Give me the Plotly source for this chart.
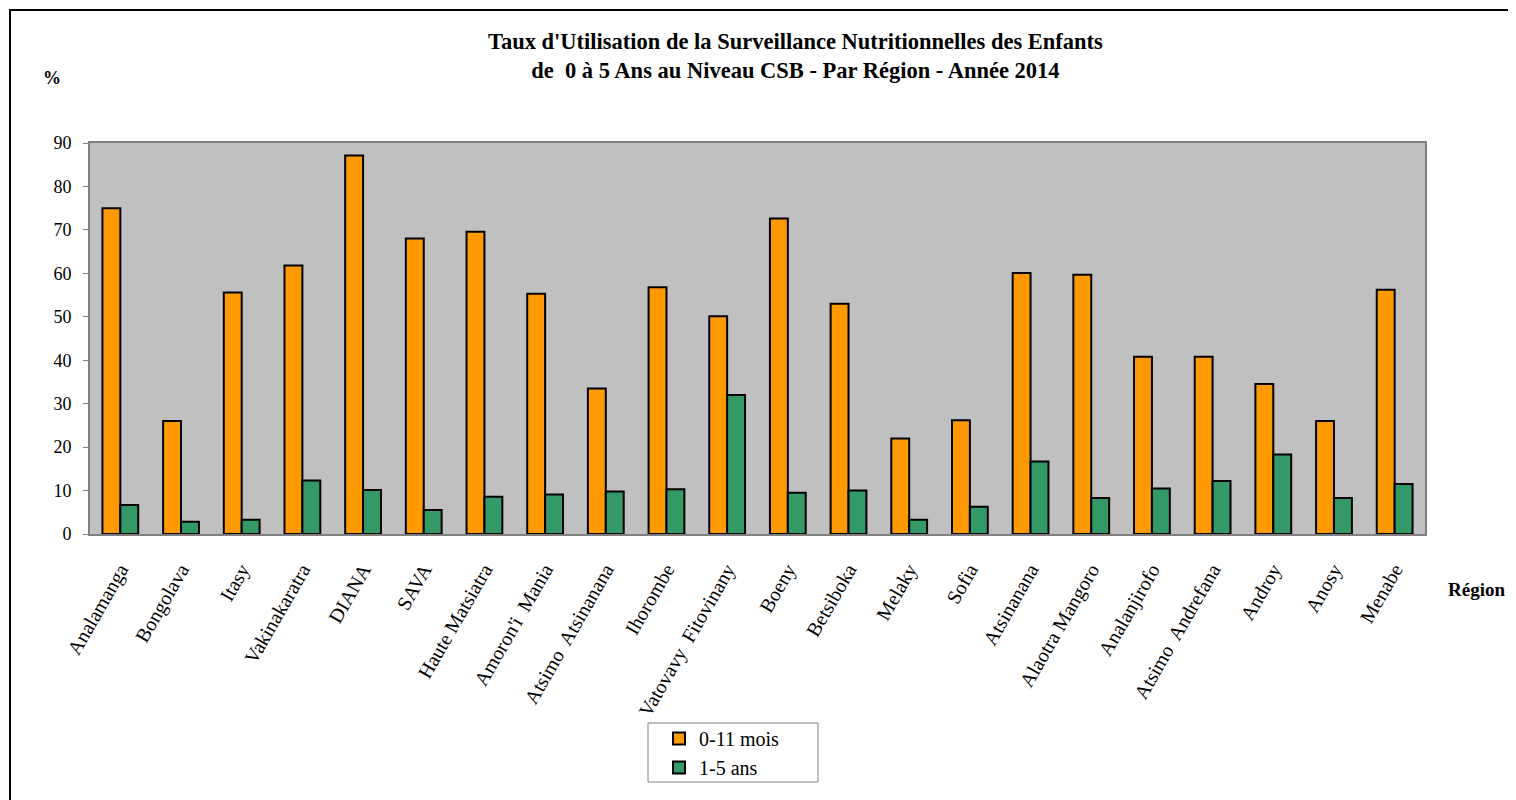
import plotly.graph_objects as go

regions = ["Analamanga", "Bongolava", "Itasy", "Vakinakaratra", "DIANA", "SAVA",
           "Haute Matsiatra", "Amoron'i  Mania", "Atsimo  Atsinanana", "Ihorombe",
           "Vatovavy  Fitovinany", "Boeny", "Betsiboka", "Melaky", "Sofia",
           "Atsinanana", "Alaotra Mangoro", "Analanjirofo", "Atsimo  Andrefana",
           "Androy", "Anosy", "Menabe"]
mois_0_11 = [75.0, 26.0, 55.6, 61.8, 87.1, 68.0, 69.6, 55.3, 33.5, 56.8,
             50.1, 72.6, 53.0, 22.0, 26.2, 60.1, 59.7, 40.8, 40.8, 34.5, 26.0, 56.2]
ans_1_5 = [6.7, 2.8, 3.3, 12.3, 10.1, 5.5, 8.6, 9.1, 9.8, 10.3,
           32.0, 9.5, 10.0, 3.3, 6.3, 16.7, 8.3, 10.5, 12.2, 18.3, 8.3, 11.5]
y_ticks = [0, 10, 20, 30, 40, 50, 60, 70, 80, 90]

FONT = "Liberation Serif, Times New Roman, serif"

# page body has an 8px margin; plot area targets x 90..1425, y 143..534 on screen
L, T, W, H = 82, 135, 1335, 391


def px(x):
    return (x - 90) / W


def py(y):
    return (534 - y) / H


fig = go.Figure()
fig.add_trace(go.Bar(x=regions, y=mois_0_11, name="0-11 mois",
                     marker=dict(color="#FF9900", line=dict(color="black", width=2))))
fig.add_trace(go.Bar(x=regions, y=ans_1_5, name="1-5 ans",
                     marker=dict(color="#339966", line=dict(color="black", width=2))))

fig.update_layout(
    width=1516, height=800,
    margin=dict(l=L, r=1516 - L - W, t=T, b=800 - T - H),
    paper_bgcolor="white", plot_bgcolor="#C0C0C0",
    barmode="group", bargap=0.41, bargroupgap=0,
    font=dict(family=FONT, color="black"),
    showlegend=True,
    legend=dict(x=px(659), y=py(719), xanchor="left", yanchor="top",
                borderwidth=0, bgcolor="rgba(0,0,0,0)",
                font=dict(size=20, family=FONT), traceorder="normal",
                itemwidth=30),
    xaxis=dict(tickangle=-60, tickfont=dict(size=20, family=FONT),
               ticklabelstandoff=14,
               showline=True, linecolor="#808080", linewidth=2, mirror=True,
               ticks="", showgrid=False),
    yaxis=dict(range=[0, 90], tickvals=y_ticks, tickfont=dict(size=18, family=FONT),
               ticklabelstandoff=8,
               showline=True, linecolor="#808080", linewidth=2, mirror=True,
               ticks="outside", ticklen=5, tickcolor="#808080",
               showgrid=False, zeroline=False),
    shapes=[
        dict(type="rect", xref="paper", yref="paper",
             x0=px(10), x1=1.2, y0=-1.0, y1=py(10),
             line=dict(color="black", width=2), fillcolor="rgba(0,0,0,0)",
             layer="below"),
        dict(type="rect", xref="paper", yref="paper",
             x0=px(648), x1=px(818), y0=py(782), y1=py(723),
             line=dict(color="#808080", width=1), fillcolor="white",
             layer="below"),
    ],
    annotations=[
        dict(text="<b>Taux d'Utilisation de la Surveillance Nutritionnelles des Enfants<br>"
                  "de  0 à 5 Ans au Niveau CSB - Par Région - Année 2014</b>",
             xref="paper", yref="paper", x=px(795), y=py(56),
             xanchor="center", yanchor="middle", showarrow=False,
             font=dict(size=22.5, family=FONT)),
        dict(text="<b>%</b>", xref="paper", yref="paper",
             x=px(52), y=py(78),
             xanchor="center", yanchor="middle", showarrow=False,
             font=dict(size=18, family=FONT)),
        dict(text="<b>Région</b>", xref="paper", yref="paper",
             x=px(1476), y=py(589),
             xanchor="center", yanchor="middle", showarrow=False,
             font=dict(size=19, family=FONT)),
    ],
)

fig.write_html("out.html")
